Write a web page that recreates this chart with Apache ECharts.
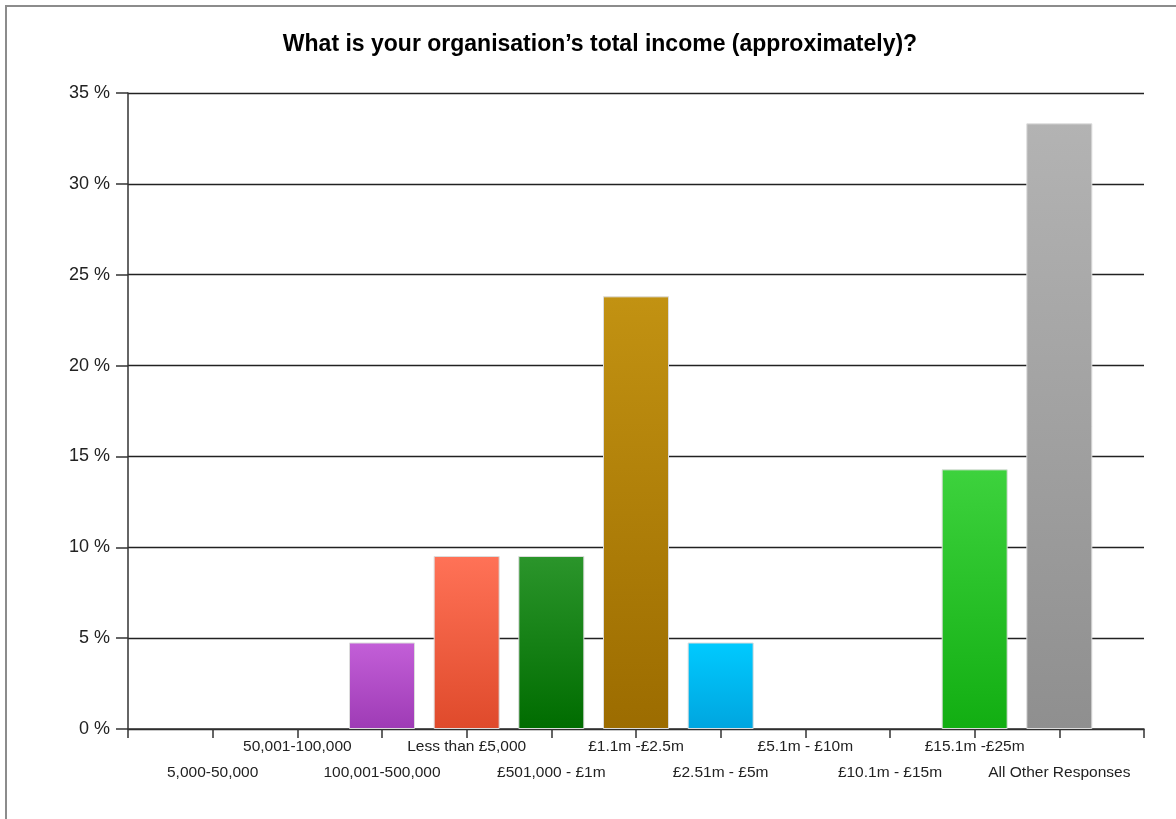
<!DOCTYPE html>
<html>
<head>
<meta charset="utf-8">
<title>Organisation total income</title>
<script src="https://cdn.jsdelivr.net/npm/echarts@6/dist/echarts.min.js"></script>
<style>
  html, body { margin: 0; padding: 0; background: #fff; }
  #chart { width: 1176px; height: 819px; }
</style>
</head>
<body>
<div id="chart"></div>
<script>
// Income bands, in axis order
const categories = [
  '5,000-50,000', '50,001-100,000', '100,001-500,000', 'Less than £5,000',
  '£501,000 - £1m', '£1.1m -£2.5m', '£2.51m - £5m', '£5.1m - £10m',
  '£10.1m - £15m', '£15.1m -£25m', 'All Other Responses'
];
// Share of responses (%)
const percentages = [0, 0, 4.76, 9.52, 9.52, 23.81, 4.76, 0, 0, 14.29, 33.33];
// Y-axis ticks (%)
const yTicks = [0, 5, 10, 15, 20, 25, 30, 35];

// Top/bottom colours of each bar's vertical gradient
const barColors = [
  ['#c9c9c9', '#a9a9a9'], ['#c9c9c9', '#a9a9a9'],
  ['#c35fd8', '#9e3bb5'], ['#ff7257', '#df4a2b'],
  ['#2b952b', '#006c00'], ['#c29212', '#9c6c00'],
  ['#00caff', '#00a5df'], ['#c9c9c9', '#a9a9a9'],
  ['#c9c9c9', '#a9a9a9'], ['#3dd23d', '#12ae12'],
  ['#b3b3b3', '#8f8f8f']
];

const chart = echarts.init(document.getElementById('chart'), null, { renderer: 'canvas' });

const barData = percentages.map((v, i) => ({
  value: [i + 1, v],
  itemStyle: {
    color: new echarts.graphic.LinearGradient(0, 0, 0, 1, [
      { offset: 0, color: barColors[i][0] },
      { offset: 1, color: barColors[i][1] }
    ]),
    borderColor: '#dcdcdc',
    borderWidth: v > 0 ? 1 : 0
  }
}));

chart.setOption({
  animation: false,
  backgroundColor: '#ffffff',
  title: {
    text: 'What is your organisation\u2019s total income (approximately)?',
    left: 595,
    textAlign: 'center',
    top: 28,
    padding: 5,
    textStyle: {
      fontFamily: 'Liberation Sans, Arial, sans-serif',
      fontSize: 23,
      fontWeight: 'bold',
      color: '#000'
    }
  },
  graphic: [{
    type: 'rect',
    shape: { x: 6, y: 6, width: 1400, height: 1000 },
    style: { fill: 'none', stroke: '#8c8c8c', lineWidth: 2 },
    silent: true,
    z: -1
  }],
  grid: { left: 128, right: 32, top: 93, bottom: 90, containLabel: false },
  xAxis: {
    type: 'value',
    min: 0,
    max: categories.length + 1,
    interval: 1,
    splitLine: { show: false },
    axisLine: { show: true, onZero: false, lineStyle: { color: '#333', width: 1.5 } },
    axisTick: { show: true, length: 9, lineStyle: { color: '#333', width: 1.5 } },
    axisLabel: {
      showMinLabel: true,
      showMaxLabel: true,
      margin: 5,
      lineHeight: 26,
      fontFamily: 'Liberation Sans, Arial, sans-serif',
      fontSize: 15.5,
      color: '#222',
      formatter: function (v) {
        const idx = Math.round(v) - 1;
        if (idx < 0 || idx >= categories.length) return '';
        return idx % 2 === 0 ? '\n' + categories[idx] : categories[idx];
      }
    }
  },
  yAxis: {
    type: 'value',
    min: yTicks[0],
    max: yTicks[yTicks.length - 1],
    interval: yTicks[1] - yTicks[0],
    axisLine: { show: true, lineStyle: { color: '#333', width: 1.5 } },
    axisTick: { show: true, length: 12, lineStyle: { color: '#333', width: 1.5 } },
    splitLine: { show: true, lineStyle: { color: '#222', width: 1.3 } },
    axisLabel: {
      margin: 18,
      fontFamily: 'Liberation Sans, Arial, sans-serif',
      fontSize: 18,
      color: '#222',
      formatter: '{value} %'
    }
  },
  series: [{
    type: 'bar',
    barWidth: 66,
    data: barData
  }]
});
</script>
</body>
</html>
